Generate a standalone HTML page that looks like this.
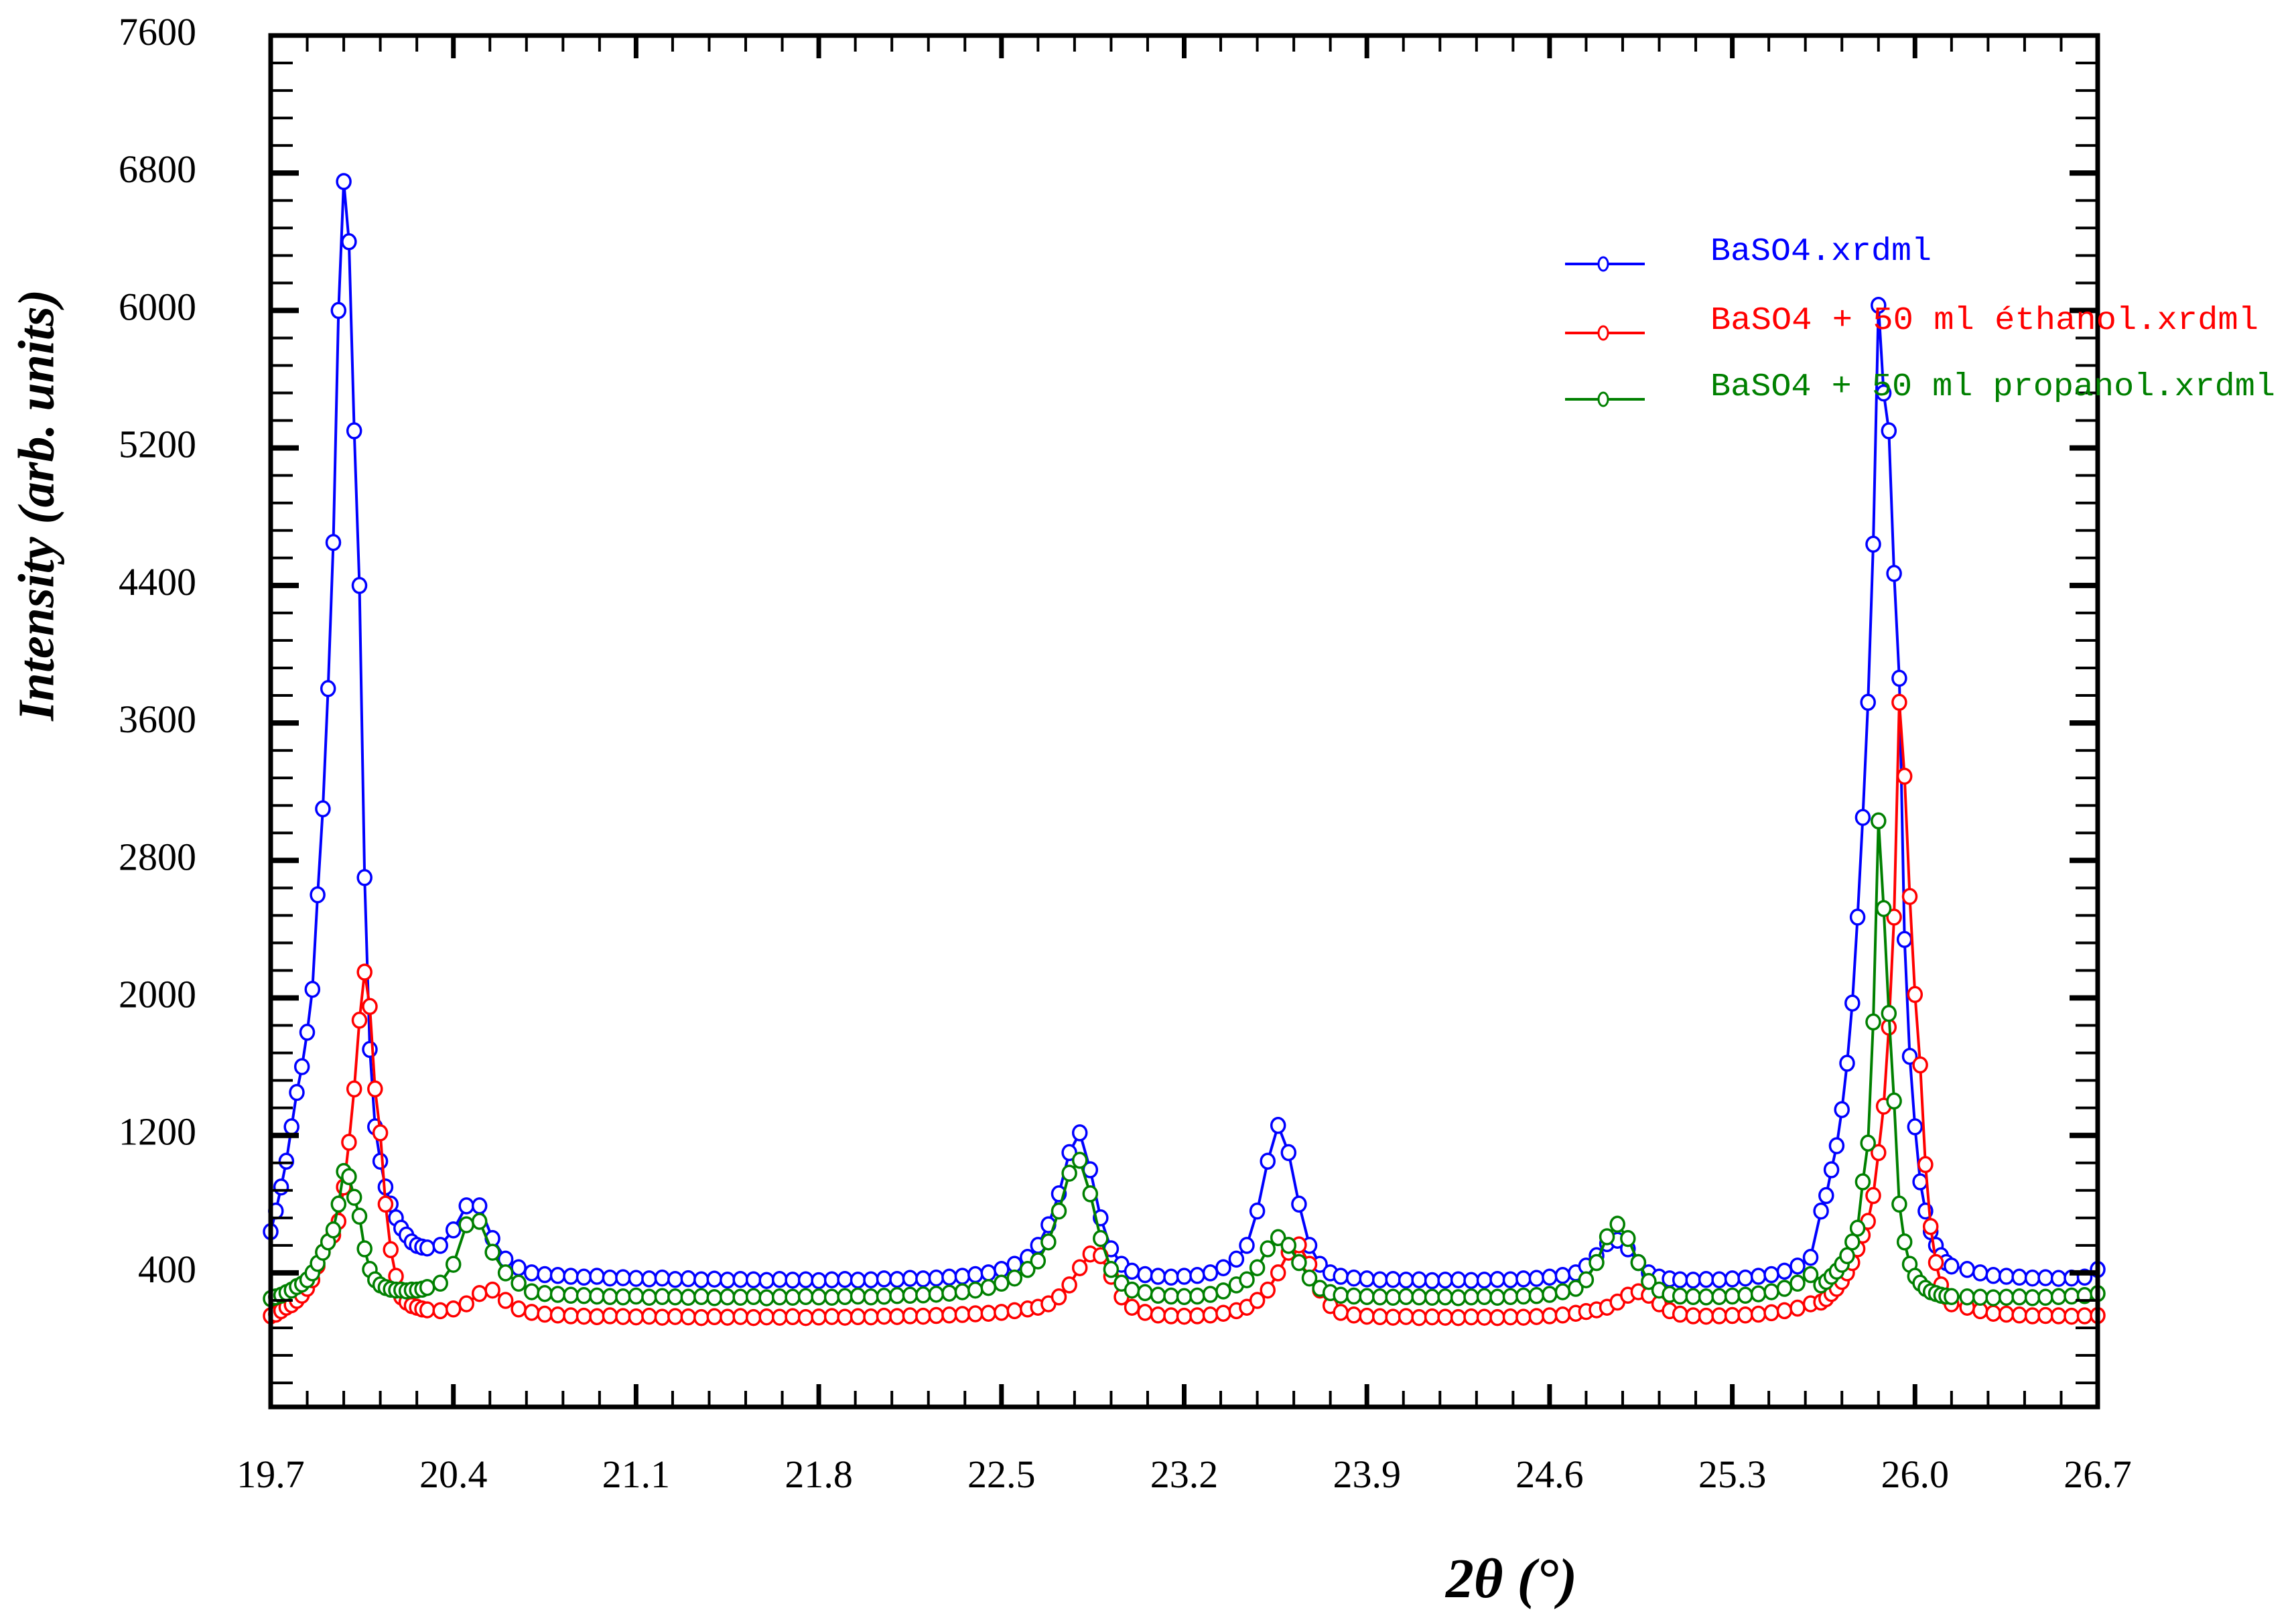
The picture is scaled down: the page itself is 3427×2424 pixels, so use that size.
<!DOCTYPE html>
<html>
<head>
<meta charset="utf-8">
<style>
  html, body { margin: 0; padding: 0; background: #fff; }
  svg { display: block; }
</style>
</head>
<body>
<svg id="chart" xmlns="http://www.w3.org/2000/svg" width="3427" height="2424" viewBox="0 0 3427 2424">
  <rect x="0" y="0" width="3427" height="2424" fill="#fff"/>
  <g id="series"></g>
  <g id="axes"></g>
  <g id="legend"></g>
  <text x="62" y="754" transform="rotate(-90 62 754)" text-anchor="middle" dominant-baseline="middle" font-family="Liberation Serif, serif" font-size="76" font-weight="bold" font-style="italic" fill="#000">Intensity (arb. units)</text>
  <text x="2256" y="2384" text-anchor="middle" font-family="Liberation Serif, serif" font-size="84" font-weight="bold" font-style="italic" fill="#000">2θ (°)</text>
</svg>
<script>
const xTickLabels = ["19.7","20.4","21.1","21.8","22.5","23.2","23.9","24.6","25.3","26.0","26.7"];
const yTickLabels = ["400","1200","2000","2800","3600","4400","5200","6000","6800","7600"];
const seriesNames = ["BaSO4.xrdml","BaSO4 + 50 ml éthanol.xrdml","BaSO4 + 50 ml propanol.xrdml"];
const seriesColors = ["#0000ff","#ff0000","#008000"];

const twoTheta = [
 19.70,19.72,19.74,19.76,19.78,19.80,19.82,19.84,19.86,19.88,19.90,19.92,19.94,19.96,19.98,20.00,20.02,20.04,20.06,20.08,20.10,20.12,20.14,20.16,20.18,20.20,20.22,20.24,20.26,20.28,20.30,
 20.35,20.40,20.45,20.50,20.55,20.60,20.65,
 20.70,20.75,20.80,20.85,20.90,20.95,21.00,21.05,21.10,21.15,21.20,21.25,21.30,21.35,21.40,21.45,21.50,21.55,21.60,21.65,21.70,21.75,21.80,21.85,21.90,21.95,22.00,22.05,22.10,22.15,22.20,22.25,22.30,22.35,22.40,22.45,22.50,22.55,22.60,
 22.64,22.68,22.72,22.76,22.80,22.84,22.88,22.92,22.96,23.00,
 23.05,23.10,23.15,23.20,23.25,23.30,23.35,23.40,
 23.44,23.48,23.52,23.56,23.60,23.64,23.68,23.72,23.76,23.80,
 23.85,23.90,23.95,24.00,24.05,24.10,24.15,24.20,24.25,24.30,24.35,24.40,24.45,24.50,24.55,24.60,24.65,24.70,
 24.74,24.78,24.82,24.86,24.90,24.94,24.98,25.02,25.06,
 25.10,25.15,25.20,25.25,25.30,25.35,25.40,25.45,25.50,25.55,25.60,
 25.64,25.66,25.68,25.70,25.72,25.74,25.76,25.78,25.80,25.82,25.84,25.86,25.88,25.90,25.92,25.94,25.96,25.98,26.00,26.02,26.04,26.06,26.08,26.10,26.12,26.14,
 26.20,26.25,26.30,26.35,26.40,26.45,26.50,26.55,26.60,26.65,26.70
];

const blueValues = [
 640,760,900,1050,1250,1450,1600,1800,2050,2600,3100,3800,4650,6000,6750,6400,5300,4400,2700,1700,1250,1050,900,800,720,660,620,580,560,550,545,
 560,650,790,790,600,480,430,
 400,390,385,380,375,380,370,372,368,365,370,362,366,360,364,358,362,360,356,362,358,360,355,360,362,358,360,365,362,368,365,370,375,380,390,400,420,450,490,
 560,680,860,1100,1215,1000,720,540,450,410,
 390,380,375,380,385,400,430,480,
 560,760,1050,1258,1100,800,560,450,400,380,
 370,365,360,362,358,360,355,358,360,356,358,362,360,365,368,375,385,400,
 440,500,570,590,540,460,400,375,365,
 360,358,362,360,365,370,380,390,410,440,490,
 760,850,1000,1140,1350,1620,1970,2470,3050,3720,4640,6030,5520,5300,4470,3860,2340,1660,1250,930,760,640,560,500,460,440,
 420,400,385,380,375,370,372,368,370,375,420
];
const redValues = [
 150,160,180,200,215,240,270,310,360,440,520,580,620,700,900,1160,1470,1870,2150,1950,1470,1215,800,535,380,260,230,210,200,190,185,
 180,190,220,280,300,240,190,
 170,160,155,150,148,145,150,146,144,148,142,146,144,140,145,142,146,140,144,142,145,140,143,146,142,145,144,148,146,150,148,152,155,158,162,165,170,180,190,
 200,220,260,330,430,510,500,380,260,200,
 170,155,150,148,150,155,165,180,
 200,240,300,400,520,563,450,300,210,170,
 155,148,145,142,146,140,144,142,140,144,142,140,144,142,146,150,155,165,
 175,185,200,230,270,290,270,220,180,
 160,150,148,150,152,155,160,168,180,195,220,
 230,250,280,310,350,400,460,540,620,700,850,1100,1370,1830,2470,3720,3290,2590,2020,1610,1030,670,460,330,260,220,
 200,180,165,160,155,150,152,150,148,150,152
];
const greenValues = [
 250,260,270,285,300,320,335,360,400,455,520,580,650,800,990,960,840,730,540,420,360,330,315,305,300,300,295,300,300,305,315,
 340,450,680,700,520,400,340,
 290,280,275,270,268,265,262,260,265,258,262,260,258,262,256,260,258,262,255,260,258,262,260,258,262,265,260,264,268,270,272,276,282,290,300,315,340,370,420,
 470,580,760,980,1055,860,600,420,340,300,
 285,270,265,262,265,275,295,330,
 360,430,540,605,560,460,370,310,285,270,
 265,262,260,258,262,260,258,260,256,260,262,258,262,265,268,275,290,310,
 360,460,610,683,600,460,350,300,275,
 265,262,260,262,265,270,278,290,310,340,390,
 330,350,380,410,450,500,580,660,930,1155,1860,3030,2520,1910,1400,800,580,450,380,340,310,290,280,270,265,262,
 260,258,255,258,260,256,258,262,265,268,280
];

const NS = "http://www.w3.org/2000/svg";
const X0 = 404, X1 = 3131, Y0 = 2100, Y1 = 53;
const XMIN = 19.7, XMAX = 26.7, YMIN = -380, YMAX = 7600;
function xScale(v) { return X0 + (v - XMIN) / (XMAX - XMIN) * (X1 - X0); }
function yScale(v) { return Y0 - (v - YMIN) / (YMAX - YMIN) * (Y0 - Y1); }
function mk(tag, attrs, parent) {
  const el = document.createElementNS(NS, tag);
  for (const k in attrs) el.setAttribute(k, attrs[k]);
  parent.appendChild(el);
  return el;
}

const seriesLayer = document.getElementById("series");
const allValues = [blueValues, redValues, greenValues];
allValues.forEach(function (vals, si) {
  const g = mk("g", {}, seriesLayer);
  
  
  let d = "";
  for (let i = 0; i < twoTheta.length; i++) {
    d += (i ? "L" : "M") + xScale(twoTheta[i]).toFixed(1) + "," + yScale(vals[i]).toFixed(1);
  }
  const line = mk("path", { d: d, fill: "none", stroke: seriesColors[si], "stroke-width": 4 }, g);
  
  
  for (let i = 0; i < twoTheta.length; i++) {
    const m = mk("ellipse", { cx: xScale(twoTheta[i]).toFixed(1), cy: yScale(vals[i]).toFixed(1), rx: 10, ry: 11, fill: "#fff", stroke: seriesColors[si], "stroke-width": 3.5 }, g);
    
    
  }
});

const axes = document.getElementById("axes");
const frame = mk("rect", { x: X0, y: Y1, width: X1 - X0, height: Y0 - Y1, fill: "none", stroke: "#000", "stroke-width": 7 }, axes);



for (let k = 1; k < 50; k++) {
  const x = xScale(XMIN + k * 0.14);
  const major = (k % 5 === 0);
  const len = major ? 34 : 24, w = major ? 7 : 4;
  const t1 = mk("line", { x1: x, y1: Y0, x2: x, y2: Y0 - len, stroke: "#000", "stroke-width": w }, axes);
  
  
  const t2 = mk("line", { x1: x, y1: Y1, x2: x, y2: Y1 + len, stroke: "#000", "stroke-width": w }, axes);
  
  
}
xTickLabels.forEach(function (lab, i) {
  const t = mk("text", { x: xScale(XMIN + i * 0.7), y: 2220, "text-anchor": "middle", "font-family": "Liberation Serif, serif", "font-size": 58, fill: "#000" }, axes);
  t.textContent = lab;
  
  
});

for (let k = -4; k <= 45; k++) {
  const v = 400 + k * 160;
  if (v <= YMIN || v >= YMAX) continue;
  const y = yScale(v);
  const major = (k % 5 === 0);
  const len = major ? 42 : 33, w = major ? 8 : 4;
  const t1 = mk("line", { x1: X0, y1: y, x2: X0 + len, y2: y, stroke: "#000", "stroke-width": w }, axes);
  
  
  const t2 = mk("line", { x1: X1, y1: y, x2: X1 - len, y2: y, stroke: "#000", "stroke-width": w }, axes);
  
  
}
yTickLabels.forEach(function (lab, i) {
  const t = mk("text", { x: 293, y: yScale(400 + i * 800) + 14, "text-anchor": "end", "font-family": "Liberation Serif, serif", "font-size": 58, fill: "#000" }, axes);
  t.textContent = lab;
  
  
});

const legend = document.getElementById("legend");
const legendY = [394, 497, 596];
const legendLen = [330, 818, 843];
seriesNames.forEach(function (name, i) {
  const g = mk("g", {}, legend);
  
  
  mk("line", { x1: 2336, y1: legendY[i], x2: 2455, y2: legendY[i], stroke: seriesColors[i], "stroke-width": 4 }, g);
  mk("ellipse", { cx: 2393, cy: legendY[i], rx: 7, ry: 10, fill: "#fff", stroke: seriesColors[i], "stroke-width": 3 }, g);
  const t = mk("text", { x: 2553, y: legendY[i] - 6, "font-family": "Liberation Mono, monospace", "font-size": 48, fill: seriesColors[i], textLength: legendLen[i], lengthAdjust: "spacingAndGlyphs" }, g);
  t.textContent = name;
  
  
});
</script>
</body>
</html>
